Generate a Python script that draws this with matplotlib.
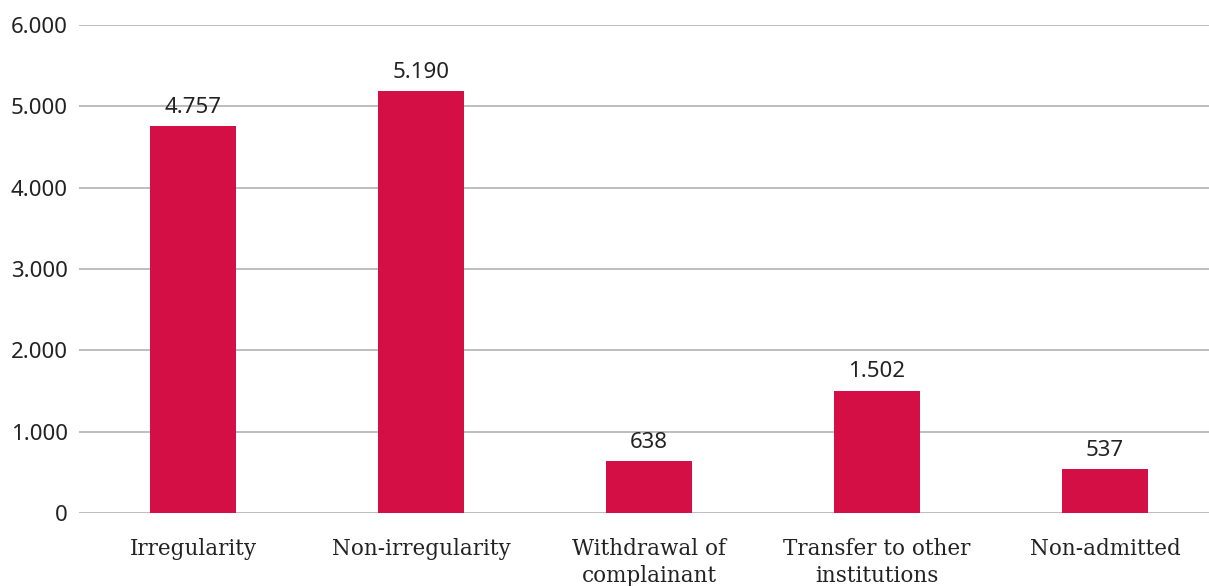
import matplotlib
matplotlib.use("Agg")
import matplotlib.pyplot as plt
from matplotlib.ticker import FuncFormatter

# data
categories = ["Irregularity", "Non-irregularity", "Withdrawal of\ncomplainant",
              "Transfer to other\ninstitutions", "Non-admitted"]
values = [4757, 5190, 638, 1502, 537]
yticks = [0, 1000, 2000, 3000, 4000, 5000, 6000]

BAR_COLOR = "#D30F45"
GRID_COLOR = "#B8B8B8"
TEXT_COLOR = "#222222"


def dotted(v, pos=None):
    # thousands separator as a dot
    return f"{int(v):,}".replace(",", ".")


fig = plt.figure(figsize=(12.09, 5.86), dpi=100)
# axes runs a little past the right edge, like the reference
ax = fig.add_axes([0.0653, 0.1246, 0.943, 0.8327])

x = range(len(categories))
ax.bar(x, values, width=0.375, color=BAR_COLOR, zorder=3)

ax.set_xlim(-0.5, len(categories) - 0.5)
ax.set_ylim(0, 6000)
ax.set_yticks(yticks)
ax.yaxis.set_major_formatter(FuncFormatter(dotted))
ax.grid(axis="y", color=GRID_COLOR, linewidth=1.3, zorder=0)
ax.set_axisbelow(True)

for s in ax.spines.values():
    s.set_visible(False)

ax.tick_params(axis="y", length=0, pad=8, labelsize=16, labelcolor=TEXT_COLOR)
ax.tick_params(axis="x", length=0, pad=18)
for lab in ax.get_yticklabels():
    lab.set_family("Noto Sans")

ax.set_xticks(list(x))
ax.set_xticklabels(categories, family="DejaVu Serif", fontsize=15.5,
                   color=TEXT_COLOR, linespacing=1.3, va="top")

for i, v in zip(x, values):
    ax.annotate(dotted(v), (i, v), xytext=(0, 6), textcoords="offset points",
                ha="center", va="bottom", fontsize=16, family="Noto Sans",
                color=TEXT_COLOR)

fig.savefig("out.png", dpi=100)
